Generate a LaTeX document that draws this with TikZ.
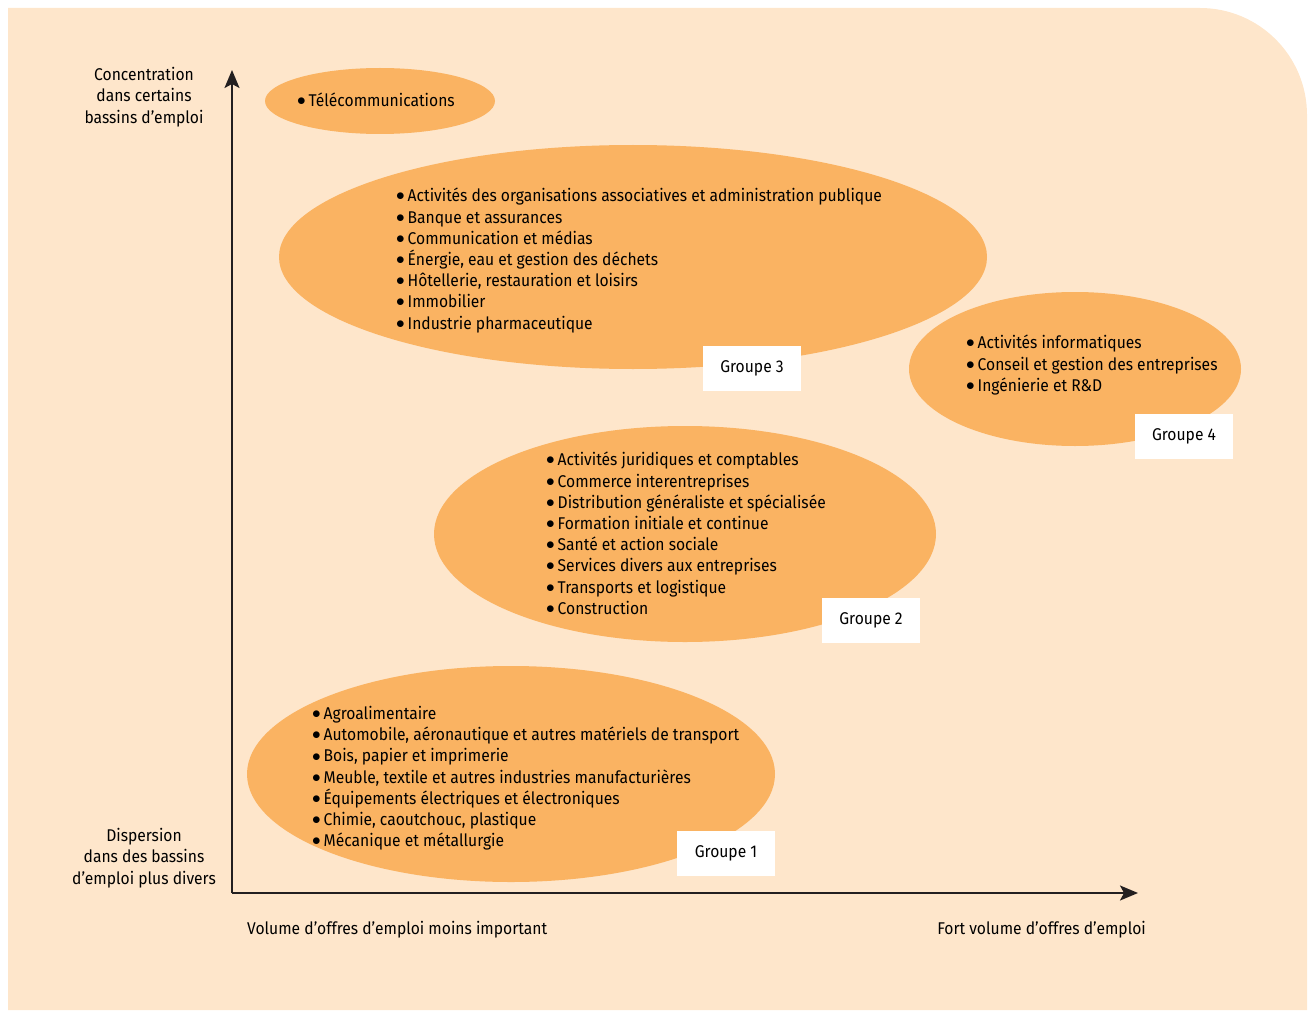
\documentclass[tikz,border=0pt]{standalone}
\usepackage{fontspec}
\setmainfont{Fira Sans}[FakeStretch=0.92]
\usetikzlibrary{arrows.meta}

\definecolor{fondpeche}{HTML}{FEE6CB}
\definecolor{bulleorange}{HTML}{FAB362}
\definecolor{axegris}{HTML}{231F20}

\newcommand\puce{\raisebox{0.05em}{$\bullet$}\,}

\tikzset{
  bulle/.style={fill=bulleorange},
  liste/.style={anchor=north west, align=left, inner sep=0pt,
    font=\fontsize{17}{21.2}\selectfont},
  groupe/.style={fill=white, minimum width=98pt, minimum height=45pt,
    font=\fontsize{17}{18}\selectfont},
  legende/.style={align=center, inner sep=0pt,
    font=\fontsize{17}{21.5}\selectfont},
  axe/.style={draw=axegris, line width=2pt,
    -{Stealth[length=18pt, width=15pt, inset=4pt]}}
}

\begin{document}
\begin{tikzpicture}[x=1pt, y=-1pt]
  \useasboundingbox (0,0) rectangle (1311,1011);

  % ====================================================
  % FOND
  % ====================================================
  \fill[fondpeche] (8,1010) -- (8,8) -- (1200,8)
    arc[start angle=-90, end angle=0, radius=107] -- (1307,1010) -- cycle;

  % ====================================================
  % AXES
  % ====================================================
  \coordinate (origine) at (232,893);
  \coordinate (haut) at (232,70);
  \coordinate (droite) at (1138,893);
  \draw[axe] (origine) -- (haut);
  \draw[axe] (origine) -- (droite);

  \node[legende, anchor=north] (concentration) at (144,67)
    {Concentration\\dans certains\\bassins d’emploi};
  \node[legende, anchor=north] (dispersion) at (144,828)
    {Dispersion\\dans des bassins\\d’emploi plus divers};
  \node[legende, anchor=base west] (faible) at (247,934)
    {Volume d’offres d’emploi moins important};
  \node[legende, anchor=base east] (fort) at (1146,934)
    {Fort volume d’offres d’emploi};

  % ====================================================
  % TELECOMMUNICATIONS
  % ====================================================
  \fill[bulle] (380,101) ellipse [x radius=115, y radius=33];
  \node[liste] (telecom) at (297,93) {\puce Télécommunications};

  % ====================================================
  % GROUPE 3
  % ====================================================
  \fill[bulle] (633,257) ellipse [x radius=354, y radius=112];
  \node[liste] (liste3) at (396,188) {%
    \puce Activités des organisations associatives et administration publique\\
    \puce Banque et assurances\\
    \puce Communication et médias\\
    \puce Énergie, eau et gestion des déchets\\
    \puce Hôtellerie, restauration et loisirs\\
    \puce Immobilier\\
    \puce Industrie pharmaceutique};
  \node[groupe] (groupe3) at (752,368) {Groupe 3};

  % ====================================================
  % GROUPE 4
  % ====================================================
  \fill[bulle] (1075,369) ellipse [x radius=166, y radius=77];
  \node[liste] (liste4) at (966,335) {%
    \puce Activités informatiques\\
    \puce Conseil et gestion des entreprises\\
    \puce Ingénierie et R\&D};
  \node[groupe] (groupe4) at (1184,436) {Groupe 4};

  % ====================================================
  % GROUPE 2
  % ====================================================
  \fill[bulle] (685,534) ellipse [x radius=251, y radius=108];
  \node[liste] (liste2) at (546,452) {%
    \puce Activités juridiques et comptables\\
    \puce Commerce interentreprises\\
    \puce Distribution généraliste et spécialisée\\
    \puce Formation initiale et continue\\
    \puce Santé et action sociale\\
    \puce Services divers aux entreprises\\
    \puce Transports et logistique\\
    \puce Construction};
  \node[groupe] (groupe2) at (871,620) {Groupe 2};

  % ====================================================
  % GROUPE 1
  % ====================================================
  \fill[bulle] (511,774) ellipse [x radius=264, y radius=108];
  \node[liste] (liste1) at (312,706) {%
    \puce Agroalimentaire\\
    \puce Automobile, aéronautique et autres matériels de transport\\
    \puce Bois, papier et imprimerie\\
    \puce Meuble, textile et autres industries manufacturières\\
    \puce Équipements électriques et électroniques\\
    \puce Chimie, caoutchouc, plastique\\
    \puce Mécanique et métallurgie};
  \node[groupe] (groupe1) at (726,853) {Groupe 1};
\end{tikzpicture}
\end{document}
